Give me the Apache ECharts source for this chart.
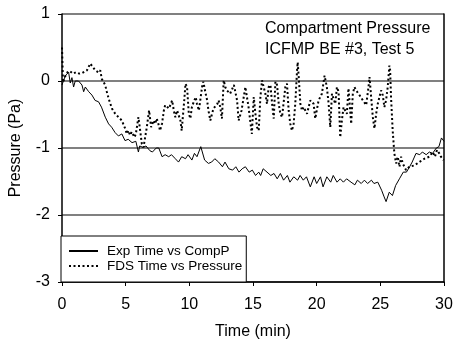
<!DOCTYPE html>
<html>
<head>
<meta charset="utf-8">
<script src="https://cdn.jsdelivr.net/npm/echarts@6/dist/echarts.min.js"></script>
<style>html,body{margin:0;padding:0;background:#fff}#c{width:456px;height:345px}</style>
</head>
<body>
<div id="c"></div>
<script>
const titleLines = ['Compartment Pressure', 'ICFMP BE #3, Test 5'];
const seriesNames = ['Exp Time vs CompP', 'FDS Time vs Pressure'];
const xTicks = [0, 5, 10, 15, 20, 25, 30];
const yTicks = [-3, -2, -1, 0, 1];

const expTime = [
  0, 0.26, 0.52, 0.65, 0.78, 0.91, 1.04, 1.3, 1.57, 1.7,
  1.83, 2.1, 2.35, 2.6, 2.87, 3.1, 3.4, 3.66, 3.9, 4.17,
  4.43, 4.7, 4.95, 5.2, 5.5, 5.8, 6.0, 6.1, 6.35, 6.6,
  6.9, 7.1, 7.4, 7.6, 7.86, 8.1, 8.38, 8.6, 8.9, 9.15,
  9.4, 9.7, 9.9, 10.2, 10.4, 10.6, 10.9, 11.2, 11.5, 11.75,
  12.0, 12.3, 12.6, 12.8, 13.1, 13.4, 13.65, 13.9, 14.15, 14.4,
  14.7, 14.95, 15.2, 15.45, 15.6, 15.8, 16.1, 16.4, 16.65, 16.9,
  17.15, 17.4, 17.7, 17.9, 18.2, 18.5, 18.7, 18.95, 19.2, 19.5,
  19.8, 20.0, 20.3, 20.5, 20.8, 21.1, 21.3, 21.6, 21.85, 22.1,
  22.35, 22.7, 23.0, 23.2, 23.5, 23.75, 24.0, 24.3, 24.5, 24.8,
  25.1, 25.3, 25.45, 25.7, 25.95, 26.2, 26.5, 26.8, 27.05, 27.3,
  27.5, 27.8, 28.1, 28.3, 28.6, 28.85, 29.1, 29.4, 29.6, 29.8,
  30
];
const expPressure = [
  -0.06, 0.08, 0.13, -0.03, 0.05, -0.09, 0.0, 0.0, -0.06, -0.16,
  -0.09, -0.16, -0.21, -0.29, -0.31, -0.39, -0.54, -0.64, -0.69, -0.77,
  -0.82, -0.79, -0.89, -0.87, -0.92, -0.9, -1.06, -0.97, -0.99, -0.97,
  -1.04, -1.06, -1.0, -1.0, -1.13, -1.1, -1.13, -1.1, -1.16, -1.21,
  -1.13, -1.16, -1.1, -1.18, -1.08, -1.13, -0.98, -1.18, -1.23, -1.21,
  -1.16, -1.21, -1.28, -1.21, -1.31, -1.33, -1.28, -1.36, -1.31, -1.28,
  -1.36, -1.33, -1.41, -1.36, -1.41, -1.31, -1.36, -1.41, -1.38, -1.46,
  -1.38, -1.48, -1.41, -1.51, -1.43, -1.48, -1.41, -1.48, -1.43, -1.58,
  -1.43, -1.53, -1.43, -1.58, -1.43, -1.51, -1.41, -1.51, -1.46, -1.51,
  -1.46, -1.51, -1.55, -1.48, -1.53, -1.48, -1.53, -1.48, -1.53, -1.51,
  -1.63, -1.73, -1.80, -1.66, -1.71, -1.56, -1.46, -1.36, -1.36, -1.28,
  -1.21, -1.08, -1.1, -1.06, -1.1, -1.06, -1.08, -1.0, -0.98, -0.85,
  -0.9
];

const fdsTime = [
  0, 0.08, 0.35, 0.6, 0.85, 1.1, 1.35, 1.6, 1.96, 2.22,
  2.35, 2.61, 2.87, 3.0, 3.13, 3.39, 3.52, 3.66, 3.92, 4.18,
  4.44, 4.7, 4.96, 5.09, 5.22, 5.35, 5.48, 5.69, 5.8, 6.0,
  6.14, 6.27, 6.4, 6.53, 6.66, 6.84, 7.0, 7.18, 7.31, 7.44,
  7.6, 7.7, 7.86, 8.0, 8.1, 8.4, 8.65, 8.78, 8.9, 9.04,
  9.3, 9.4, 9.6, 9.7, 9.82, 9.96, 10.08, 10.2, 10.35, 10.5,
  10.6, 10.75, 11.0, 11.1, 11.25, 11.4, 11.5, 11.65, 11.78, 11.9,
  12.2, 12.3, 12.43, 12.56, 12.7, 12.82, 12.95, 13.2, 13.5, 13.75,
  13.87, 14.1, 14.4, 14.52, 14.65, 14.78, 14.91, 15.06, 15.19, 15.32,
  15.45, 15.58, 15.71, 15.84, 15.97, 16.1, 16.23, 16.37, 16.5, 16.63,
  16.76, 16.89, 17.02, 17.15, 17.28, 17.54, 17.67, 17.8, 17.93, 18.06,
  18.19, 18.32, 18.46, 18.51, 18.59, 18.72, 18.85, 18.98, 19.24, 19.5,
  19.76, 19.89, 20.15, 20.41, 20.62, 20.8, 20.94, 21.07, 21.2, 21.33,
  21.46, 21.59, 21.72, 21.85, 21.98, 22.11, 22.37, 22.5, 22.63, 22.71,
  22.84, 22.97, 23.1, 23.36, 23.63, 23.89, 24.07, 24.15, 24.28, 24.41,
  24.54, 24.67, 24.8, 25.06, 25.19, 25.32, 25.45, 25.58, 25.71, 25.77,
  25.84, 25.97, 26.1, 26.24, 26.37, 26.5, 26.63, 26.76, 27.02, 27.28,
  27.67, 28.06, 28.46, 28.85, 29.11, 29.29, 29.45, 29.63, 29.76, 29.97
];
const fdsPressure = [
  0.5, -0.02, 0.12, 0.15, 0.11, 0.13, 0.11, 0.12, 0.16, 0.26,
  0.28, 0.16, 0.13, 0.16, 0.03, -0.06, -0.16, -0.26, -0.41, -0.49,
  -0.54, -0.59, -0.71, -0.79, -0.74, -0.81, -0.76, -0.84, -0.79, -0.54,
  -0.74, -0.94, -0.99, -0.84, -0.69, -0.44, -0.69, -0.59, -0.64, -0.56,
  -0.66, -0.74, -0.63, -0.44, -0.36, -0.41, -0.29, -0.44, -0.54, -0.44,
  -0.59, -0.74, -0.29, -0.04, -0.09, -0.49, -0.56, -0.39, -0.31, -0.24,
  -0.34, -0.44, -0.09, -0.01, -0.16, -0.29, -0.44, -0.59, -0.49, -0.41,
  -0.34, -0.29, -0.39, -0.56, 0.01, -0.09, -0.14, -0.19, -0.06, -0.29,
  -0.59, -0.44, -0.09, -0.09, -0.39, -0.59, -0.79, -0.24, -0.49, -0.69,
  -0.74, -0.24, 0.01, -0.01, -0.19, -0.34, -0.09, -0.06, -0.34, -0.56,
  -0.01, -0.06, -0.34, -0.49, -0.54, -0.09, -0.04, -0.44, -0.64, -0.74,
  -0.64, -0.34, 0.16, 0.28, 0.06, -0.34, -0.44, -0.39, -0.49, -0.29,
  -0.34, -0.56, -0.29, -0.19, 0.08, -0.09, -0.34, -0.69, -0.19, -0.21,
  -0.34, -0.09, -0.16, -0.84, -0.59, -0.39, -0.49, -0.11, -0.09, -0.64,
  -0.19, -0.09, -0.14, -0.21, -0.29, -0.36, -0.09, 0.06, -0.24, -0.54,
  -0.71, -0.49, -0.34, -0.14, -0.21, -0.39, -0.29, -0.09, 0.23, 0.16,
  -0.24, -0.74, -1.08, -1.23, -1.13, -1.28, -1.13, -1.23, -1.33, -1.28,
  -1.26, -1.21, -1.16, -1.13, -1.06, -1.13, -1.03, -1.08, -1.13, -1.18
];

const FONT = "'Liberation Sans', Arial, sans-serif";
const zip = (a, b) => a.map((v, i) => [v, b[i]]);

const chart = echarts.init(document.getElementById('c'), null, { renderer: 'canvas' });
chart.setOption({
  animation: false,
  backgroundColor: '#ffffff',
  textStyle: { fontFamily: FONT, color: '#000' },
  title: {
    text: titleLines.join('\n'),
    left: 265, top: 18, padding: 0,
    textStyle: { fontFamily: FONT, fontSize: 16, fontWeight: 'normal', color: '#000', lineHeight: 21 }
  },
  grid: { left: 61, right: 12, top: 14, bottom: 63, containLabel: false },
  legend: {
    orient: 'vertical',
    left: 61, top: 236,
    padding: [8, 4, 9, 7],
    itemWidth: 29, itemHeight: 14, itemGap: 1,
    backgroundColor: '#fff',
    borderColor: '#000', borderWidth: 1,
    itemStyle: { opacity: 0 },
    textStyle: { fontFamily: FONT, fontSize: 13.5, color: '#000', padding: [0, 0, 0, 4] },
    data: seriesNames
  },
  xAxis: {
    type: 'value', min: xTicks[0], max: xTicks[xTicks.length - 1], interval: 5,
    name: 'Time (min)', nameLocation: 'middle', nameGap: 42,
    nameTextStyle: { fontFamily: FONT, fontSize: 16, color: '#000' },
    axisLine: { show: true, onZero: false, lineStyle: { color: '#000', width: 1.5 } },
    axisTick: { show: true, length: 4, lineStyle: { color: '#000' } },
    axisLabel: { fontFamily: FONT, fontSize: 16, color: '#000', margin: 15 },
    splitLine: { show: false }
  },
  yAxis: [{
    type: 'value', min: yTicks[0], max: yTicks[yTicks.length - 1], interval: 1,
    name: 'Pressure (Pa)', nameLocation: 'middle', nameGap: 38, nameRotate: 90,
    nameTextStyle: { fontFamily: FONT, fontSize: 16, color: '#000' },
    axisLine: { show: true, onZero: false, lineStyle: { color: '#000', width: 1.5 } },
    axisTick: { show: true, length: 4, lineStyle: { color: '#000' } },
    axisLabel: { fontFamily: FONT, fontSize: 16, color: '#000', margin: 12 },
    splitLine: { show: true, lineStyle: { color: '#808080', width: 2 } }
  }, {
    type: 'value', position: 'right', min: yTicks[0], max: yTicks[yTicks.length - 1], interval: 1,
    axisLine: { show: true, onZero: false, lineStyle: { color: '#000', width: 1.5 } },
    axisTick: { show: false }, axisLabel: { show: false }, splitLine: { show: false }
  }],
  series: [{
    name: seriesNames[0], type: 'line', yAxisIndex: 0,
    data: zip(expTime, expPressure),
    symbol: 'none', showSymbol: false,
    lineStyle: { color: '#000', width: 1 },
    itemStyle: { color: '#000' },
    z: 3
  }, {
    name: seriesNames[1], type: 'line', yAxisIndex: 0,
    data: zip(fdsTime, fdsPressure),
    symbol: 'none', showSymbol: false,
    lineStyle: { color: '#000', width: 2, type: [2, 2.5] },
    itemStyle: { color: '#000' },
    z: 2
  }]
});
</script>
</body>
</html>
